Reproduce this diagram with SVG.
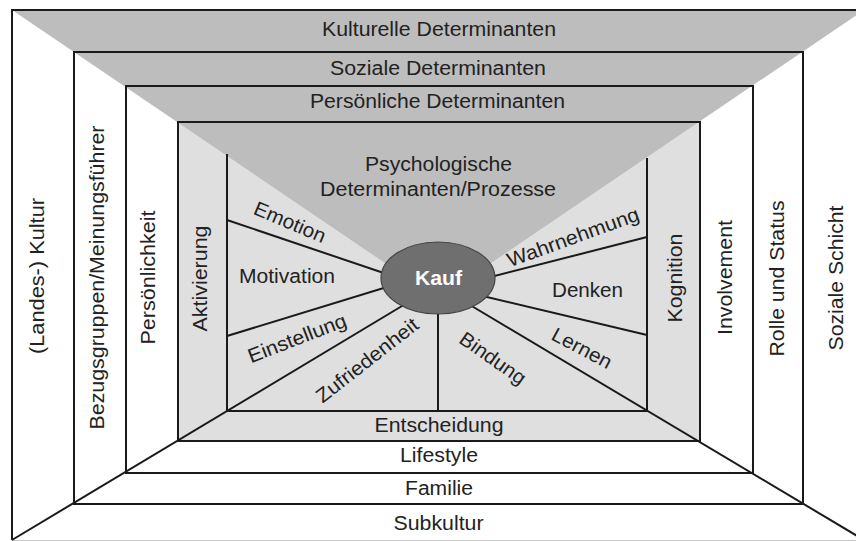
<svg xmlns="http://www.w3.org/2000/svg" width="856" height="541" viewBox="0 0 856 541">
<style>
  text { font-family: "Liberation Sans", Arial, sans-serif; font-size: 20px; fill: #222; }
  .c { text-anchor: middle; }
  .wall { fill: none; stroke: #1a1a1a; stroke-width: 2; }
  .ray { stroke: #1a1a1a; stroke-width: 2; fill: none; }
  .kauf { font-weight: bold; fill: #fff; }
</style>
<rect x="0" y="0" width="856" height="541" fill="#fff"/>
<g id="fills">
  <rect x="178" y="122" width="522" height="319" fill="#dfdfdf"/>
  <polygon points="12,10 864,10 438,299" fill="#bdbdbd"/>
</g>
<g id="connectors">
  <path class="wall" d="M12,540 L12,10 L864,10"/>
  <line x1="12" y1="540.5" x2="856" y2="540.5" stroke="#c8c8c8" stroke-width="1"/>
  <rect class="wall" x="74" y="52" width="729" height="452"/>
  <rect class="wall" x="126" y="86" width="627" height="387"/>
  <rect class="wall" x="178" y="122" width="522" height="319"/>
  <path class="wall" d="M227,154 L227,411 L647,411 L647,158"/>
  <line class="ray" x1="12" y1="540" x2="412" y2="300"/>
  <line class="ray" x1="864" y1="540" x2="465" y2="302"/>
  <line class="ray" x1="227" y1="220" x2="400" y2="278.5"/>
  <line class="ray" x1="227" y1="336" x2="400" y2="283"/>
  <line class="ray" x1="438" y1="300" x2="438" y2="411"/>
  <line class="ray" x1="647" y1="335" x2="470" y2="293"/>
  <line class="ray" x1="647" y1="237" x2="475" y2="281"/>
</g>
<g id="kauf">
  <ellipse cx="438" cy="278" rx="57" ry="36" fill="#6f6f6f" stroke="#444" stroke-width="1.2"/>
  <text class="c kauf" x="438.5" y="285" textLength="47" lengthAdjust="spacingAndGlyphs">Kauf</text>
</g>
<g id="kulturelle">
  <text class="c" x="439" y="36" textLength="234" lengthAdjust="spacingAndGlyphs">Kulturelle Determinanten</text>
  <text class="c" transform="translate(43.5,276) rotate(-90)" x="0" y="0" textLength="156" lengthAdjust="spacingAndGlyphs">(Landes-) Kultur</text>
  <text class="c" transform="translate(842.5,278) rotate(-90)" x="0" y="0" textLength="145" lengthAdjust="spacingAndGlyphs">Soziale Schicht</text>
  <text class="c" x="438.5" y="530" textLength="90" lengthAdjust="spacingAndGlyphs">Subkultur</text>
</g>
<g id="soziale">
  <text class="c" x="438" y="75" textLength="216" lengthAdjust="spacingAndGlyphs">Soziale Determinanten</text>
  <text class="c" transform="translate(103.5,277.5) rotate(-90)" x="0" y="0" textLength="304" lengthAdjust="spacingAndGlyphs">Bezugsgruppen/Meinungsführer</text>
  <text class="c" transform="translate(784,278.5) rotate(-90)" x="0" y="0" textLength="156" lengthAdjust="spacingAndGlyphs">Rolle und Status</text>
  <text class="c" x="439" y="495" textLength="68" lengthAdjust="spacingAndGlyphs">Familie</text>
</g>
<g id="persoenliche">
  <text class="c" x="437.5" y="108" textLength="255" lengthAdjust="spacingAndGlyphs">Persönliche Determinanten</text>
  <text class="c" transform="translate(154.5,277.5) rotate(-90)" x="0" y="0" textLength="134" lengthAdjust="spacingAndGlyphs">Persönlichkeit</text>
  <text class="c" transform="translate(732,277.5) rotate(-90)" x="0" y="0" textLength="115" lengthAdjust="spacingAndGlyphs">Involvement</text>
  <text class="c" x="439" y="462" textLength="78" lengthAdjust="spacingAndGlyphs">Lifestyle</text>
</g>
<g id="psychologische">
  <text class="c" x="438.5" y="171" textLength="147" lengthAdjust="spacingAndGlyphs">Psychologische</text>
  <text class="c" x="438" y="196" textLength="236" lengthAdjust="spacingAndGlyphs">Determinanten/Prozesse</text>
  <text class="c" transform="translate(207,278.5) rotate(-90)" x="0" y="0" textLength="106" lengthAdjust="spacingAndGlyphs">Aktivierung</text>
  <text class="c" transform="translate(682,278) rotate(-90)" x="0" y="0" textLength="89" lengthAdjust="spacingAndGlyphs">Kognition</text>
  <text class="c" x="439" y="432" textLength="129" lengthAdjust="spacingAndGlyphs">Entscheidung</text>
</g>
<g id="prozesse">
  <text class="c" transform="translate(290,222) rotate(23)" x="0" y="7" textLength="76" lengthAdjust="spacingAndGlyphs">Emotion</text>
  <text class="c" x="287" y="283" textLength="96" lengthAdjust="spacingAndGlyphs">Motivation</text>
  <text class="c" transform="translate(297,338) rotate(-21)" x="0" y="7" textLength="104" lengthAdjust="spacingAndGlyphs">Einstellung</text>
  <text class="c" transform="translate(367,360) rotate(-38)" x="0" y="7" textLength="124" lengthAdjust="spacingAndGlyphs">Zufriedenheit</text>
  <text class="c" transform="translate(493,358) rotate(35)" x="0" y="7" textLength="76" lengthAdjust="spacingAndGlyphs">Bindung</text>
  <text class="c" transform="translate(582,348) rotate(28)" x="0" y="7" textLength="65" lengthAdjust="spacingAndGlyphs">Lernen</text>
  <text class="c" x="587.5" y="297" textLength="71" lengthAdjust="spacingAndGlyphs">Denken</text>
  <text class="c" transform="translate(573,237) rotate(-20)" x="0" y="7" textLength="139" lengthAdjust="spacingAndGlyphs">Wahrnehmung</text>
</g>
</svg>
